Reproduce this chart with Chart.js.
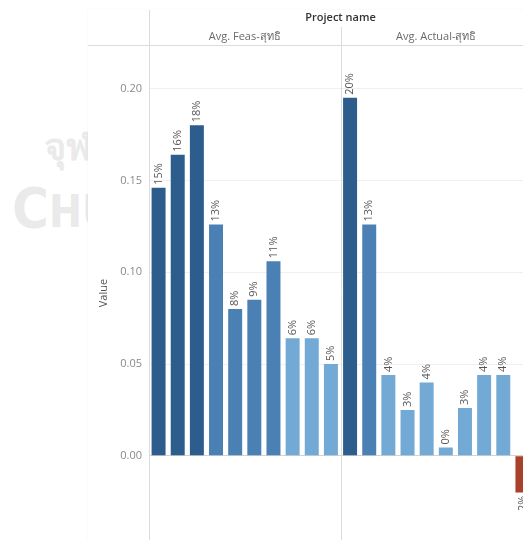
<!DOCTYPE html>
<html>
<head>
<meta charset="utf-8">
<script src="https://cdn.jsdelivr.net/npm/chart.js@4.4.0/dist/chart.umd.min.js"></script>
<style>
html, body { margin: 0; padding: 0; overflow: hidden; }
body { width: 523px; height: 540px; position: relative; background: #fff; font-family: "Open Sans", "Noto Sans", sans-serif; }
.wm { position: absolute; color: #eaeaea; font-weight: bold; font-family: "Liberation Sans Narrow", "DejaVu Sans Condensed", sans-serif; line-height: 1; white-space: nowrap; }
/* the canvas runs a little below the window so the plot reaches the bottom edge */
#box { position: absolute; left: 88px; top: 10px; width: 444px; height: 544px; background: #fff; box-shadow: 0 0 2px rgba(0,0,0,0.06); }
</style>
</head>
<body>
<div class="wm" style="left:44px; top:128px; font-size:38px;">จุฬ</div>
<div class="wm" style="left:12px; top:180px; font-size:56px;">C<span style="font-size:44px;">HU</span></div>
<div id="box"><canvas id="myChart"></canvas></div>
<script>
var measures = ['Avg. Feas-สุทธิ', 'Avg. Actual-สุทธิ'];
var projects = ['P01', 'P02', 'P03', 'P04', 'P05', 'P06', 'P07', 'P08', 'P09', 'P10'];
var feasValues = [0.146, 0.164, 0.180, 0.126, 0.080, 0.085, 0.106, 0.064, 0.064, 0.050];
var actualValues = [0.195, 0.126, 0.044, 0.025, 0.040, 0.0045, 0.026, 0.044, 0.044, -0.020];
var yTicks = [0, 0.05, 0.10, 0.15, 0.20];

var labels = [];
measures.forEach(function(m){
    projects.forEach(function(p){ labels.push(m + ' / ' + p); });
});
var values = feasValues.concat(actualValues);

// stepped red-blue colouring by value
function barColor(v){
    if (v < 0) return '#a8412a';
    if (v >= 0.14) return '#2c5d8c';
    if (v >= 0.075) return '#4a80b3';
    return '#73aad5';
}

var fontFamily = '"Open Sans", "Noto Sans", sans-serif';

var panelPlugin = {
    id: 'panels',
    afterDraw: function(chart){
        var c = chart.ctx;
        var area = chart.chartArea;
        var x = chart.scales.x;
        var mid = (x.getPixelForValue(9) + x.getPixelForValue(10)) / 2;
        c.save();
        c.strokeStyle = '#dcdcdc';
        c.lineWidth = 1;
        c.beginPath();
        c.moveTo(0, 35.5); c.lineTo(chart.width, 35.5);
        c.moveTo(area.left + 0.5, 0); c.lineTo(area.left + 0.5, chart.height);
        c.moveTo(Math.round(mid) + 0.5, 17); c.lineTo(Math.round(mid) + 0.5, chart.height);
        c.stroke();

        c.textAlign = 'center';
        c.textBaseline = 'middle';
        c.fillStyle = '#333';
        c.font = '600 11px ' + fontFamily;
        c.fillText('Project name', (area.left + area.right) / 2, 8);
        c.fillStyle = '#6a6a6a';
        c.font = '11px ' + fontFamily;
        c.fillText(measures[0], (area.left + mid) / 2, 27);
        c.fillText(measures[1], (mid + area.right) / 2, 27);

        c.fillStyle = '#555';
        c.save();
        c.translate(16, (area.top + 530) / 2);
        c.rotate(-Math.PI / 2);
        c.fillText('Value', 0, 0);
        c.restore();

        // value labels, rotated
        var meta = chart.getDatasetMeta(0);
        c.font = '11px ' + fontFamily;
        c.fillStyle = '#555';
        meta.data.forEach(function(bar, i){
            var v = values[i];
            var txt = Math.round(v * 100) + '%';
            c.save();
            c.translate(bar.x, v >= 0 ? bar.y - 3 : bar.y + 3);
            c.rotate(-Math.PI / 2);
            c.textAlign = v >= 0 ? 'left' : 'right';
            c.textBaseline = 'middle';
            c.fillText(txt, 0, 0);
            c.restore();
        });
        c.restore();
    }
};

var ctx = document.getElementById('myChart').getContext('2d');
var myChart = new Chart(ctx, {
    type: 'bar',
    data: {
        labels: labels,
        datasets: [{
            label: 'Value',
            data: values,
            backgroundColor: values.map(barColor),
            borderWidth: 0,
            barPercentage: 0.73,
            categoryPercentage: 1
        }]
    },
    options: {
        responsive: true,
        maintainAspectRatio: false,
        animation: false,
        layout: { autoPadding: false, padding: { top: 36, left: 0, right: 0, bottom: 0 } },
        scales: {
            x: { display: false },
            y: {
                min: -0.04605,
                max: 0.2232,
                afterBuildTicks: function(scale){
                    scale.ticks = yTicks.map(function(v){ return {value: v}; });
                },
                afterFit: function(scale){ scale.width = 61; },
                border: { display: false },
                grid: {
                    drawTicks: false,
                    color: function(c){ return c.tick && c.tick.value === 0 ? '#d2d2d2' : '#f0f0f0'; }
                },
                ticks: {
                    padding: 7,
                    color: '#8a8a8a',
                    font: { size: 11, family: fontFamily },
                    callback: function(v){ return Number(v).toFixed(2); }
                }
            }
        },
        plugins: {
            legend: { display: false },
            tooltip: { enabled: false }
        }
    },
    plugins: [panelPlugin]
});
</script>
</body>
</html>
